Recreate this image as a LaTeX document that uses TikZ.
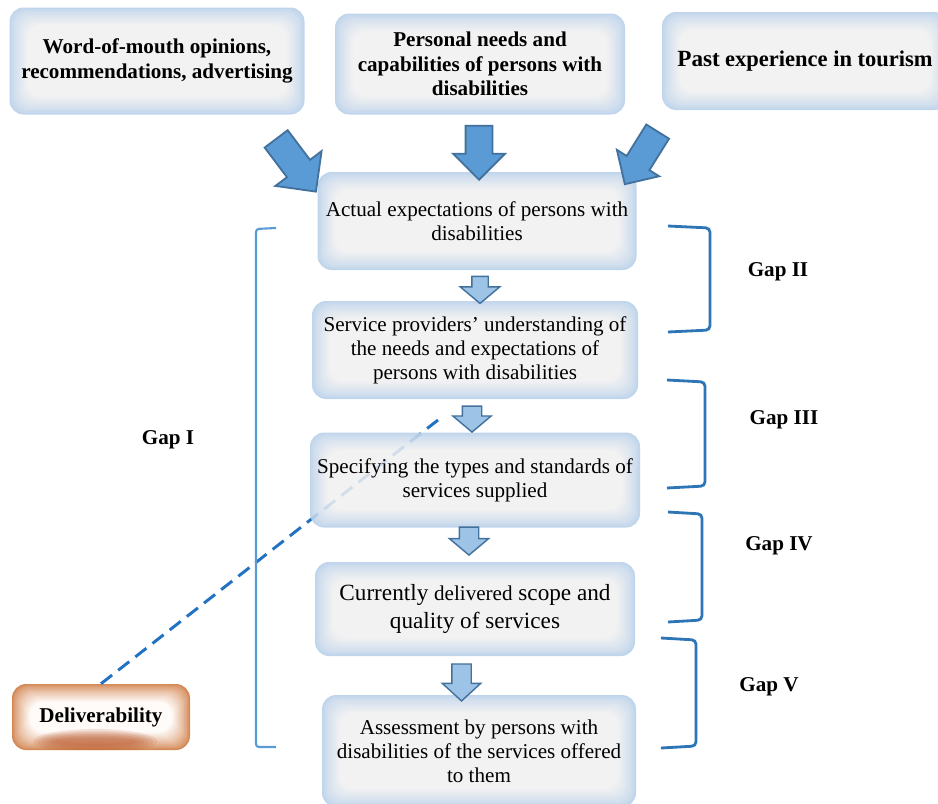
\documentclass[tikz,border=0pt]{standalone}
\usepackage{fontspec}
\setmainfont{Liberation Serif}
\usetikzlibrary{shapes.arrows}
\definecolor{glowblue}{HTML}{C0D5EC}
\definecolor{innergray}{HTML}{F2F2F2}
\definecolor{glowora}{HTML}{D48A58}
\definecolor{innerora}{HTML}{FFFBF8}
\definecolor{oradark}{HTML}{B9582C}
\definecolor{arrowfill}{HTML}{5B9BD5}
\definecolor{arrowedge}{HTML}{41719C}
\definecolor{smallfill}{HTML}{9DC3E6}
\definecolor{gapline}{HTML}{2E75B6}
\definecolor{gapIline}{HTML}{5B9BD5}
\definecolor{dashblue}{HTML}{2272C3}
\begin{document}
\begin{tikzpicture}[x=0.025cm, y=-0.025cm,
  glow/.style n args={3}{rounded corners=10pt, fill=#1, inner sep=0pt, path picture={
      \foreach \i [evaluate=\i as \p using int(100-100*(\i/12)^0.8)] in {1,...,12}
        \fill[#1!\p!#2, rounded corners=10pt]
          ([shift={(\i*1.05pt,\i*1.05pt)}]path picture bounding box.south west) rectangle
          ([shift={(-\i*1.05pt,-\i*1.05pt)}]path picture bounding box.north east);
      #3}},
  bluebox/.style={glow={glowblue}{innergray}{}},
  boxsize/.style 2 args={minimum width=#1*0.025cm, minimum height=#2*0.025cm},
  topfont/.style={align=center, font=\fontsize{15}{17.5}\selectfont\bfseries},
  midfont/.style={align=center, font=\fontsize{15}{17}\selectfont},
  gapfont/.style={font=\fontsize{15}{17}\selectfont\bfseries},
  blockarrow/.style n args={4}{single arrow, inner xsep=0pt, inner ysep=#3*0.0125cm,
    minimum height=#1*0.025cm, minimum width=#2*0.025cm,
    single arrow head extend={(#2-#3)*0.0125cm}, rotate=#4},
  bigarrow/.style={draw=arrowedge, fill=arrowfill, line width=1.3pt, single arrow tip angle=90},
  smallarrow/.style={draw=arrowedge, fill=smallfill, line width=1pt, single arrow tip angle=100},
  gapbracket/.style={draw=gapline, line width=2pt, rounded corners=3pt},
  gapIbracket/.style={draw=gapIline, line width=1.5pt, rounded corners=2pt},
  dashline/.style={draw=dashblue, line width=2.1pt, dash pattern=on 10pt off 5.5pt}]
  \useasboundingbox (0,0) rectangle (938,803);
  \clip (0,0) rectangle (938,803);

  \node[bluebox, boxsize={295}{107}, topfont] (wom) at (157,61)
    {Word-of-mouth opinions,\\recommendations, advertising};
  \node[bluebox, boxsize={290}{101}, topfont] (needs) at (480,64)
    {Personal needs and\\capabilities of persons with\\disabilities};
  \node[bluebox, boxsize={286}{98}, topfont] (past) at (805,61)
    {{\fontsize{16.5}{18}\selectfont Past} {\fontsize{16}{18}\selectfont experience in tourism}};

  \node[bluebox, boxsize={319}{98}, midfont] (expect) at (477,221)
    {Actual expectations of persons with\\disabilities};
  \node[bluebox, boxsize={326}{98}, midfont] (underst) at (475,350)
    {Service providers’ understanding of\\the needs and expectations of\\persons with disabilities};
  \node[bluebox, boxsize={320}{94}, align=center, font=\fontsize{16.5}{19.5}\selectfont] (current) at (475,609)
    {Currently {\fontsize{15}{19}\selectfont delivered} scope and\\quality of services};
  \node[bluebox, boxsize={314}{112}, midfont] (assess) at (479,751)
    {Assessment by persons with\\disabilities of the services offered\\to them};

  \node[glow={glowora}{innerora}{
      \foreach \j in {0,...,5}
        \fill[oradark, opacity=0.14]
          ([xshift=-4pt, yshift=6pt]path picture bounding box.south)
          ellipse [x radius=44pt-3*\j pt, y radius=9pt-1.2*\j pt];},
    boxsize={178}{66}, gapfont] (deliv) at (101,717) {Deliverability};

  \coordinate (dashend) at (438,420);
  \draw[dashline] (deliv.north) -- (dashend);
  \node[bluebox, boxsize={330}{95}, midfont] (spec) at (475,480)
    {Specifying the types and standards of\\services supplied};
  \begin{scope}
    \clip[rounded corners=10pt] (spec.south west) rectangle (spec.north east);
    \draw[dashline, opacity=0.15] (deliv.north) -- (dashend);
  \end{scope}

  % arrows into the expectations box
  \node[bigarrow, blockarrow={66}{56}{27}{-53}] (arrwom) at (291.7,159.5) {};
  \node[bigarrow, blockarrow={54}{50}{25}{-90}] (arrneeds) at (479,146) {};
  \node[bigarrow, blockarrow={62}{48}{25}{-122}] (arrpast) at (644.8,152.2) {};

  % arrows down the chain
  \node[smallarrow, blockarrow={27}{38}{15}{-90}] (arrone) at (480,286.5) {};
  \node[smallarrow, blockarrow={26}{37}{18}{-90}] (arrtwo) at (472,415) {};
  \node[smallarrow, blockarrow={28}{38}{18}{-90}] (arrthree) at (469,537) {};
  \node[smallarrow, blockarrow={37}{37}{18}{-90}, single arrow tip angle=95] (arrfour) at (461.5,678) {};

  % gaps
  \draw[gapIbracket] (276,228) -- (256,229) -- (256,747) -- (276,747);
  \draw[gapbracket] (668,226) -- (710,228) -- (710,330) -- (668,332);
  \draw[gapbracket] (667,380) -- (705,382) -- (705,486) -- (667,488);
  \draw[gapbracket] (668,512) -- (702,514) -- (702,620) -- (668,622);
  \draw[gapbracket] (661,638) -- (696,640) -- (696,746) -- (661,748);
  \node[gapfont] (gapI) at (168,440) {Gap I};
  \node[gapfont] (gapII) at (778,272) {Gap II};
  \node[gapfont] (gapIII) at (784,420) {Gap III};
  \node[gapfont] (gapIV) at (779,546) {Gap IV};
  \node[gapfont] (gapV) at (769,687) {Gap V};
\end{tikzpicture}
\end{document}
